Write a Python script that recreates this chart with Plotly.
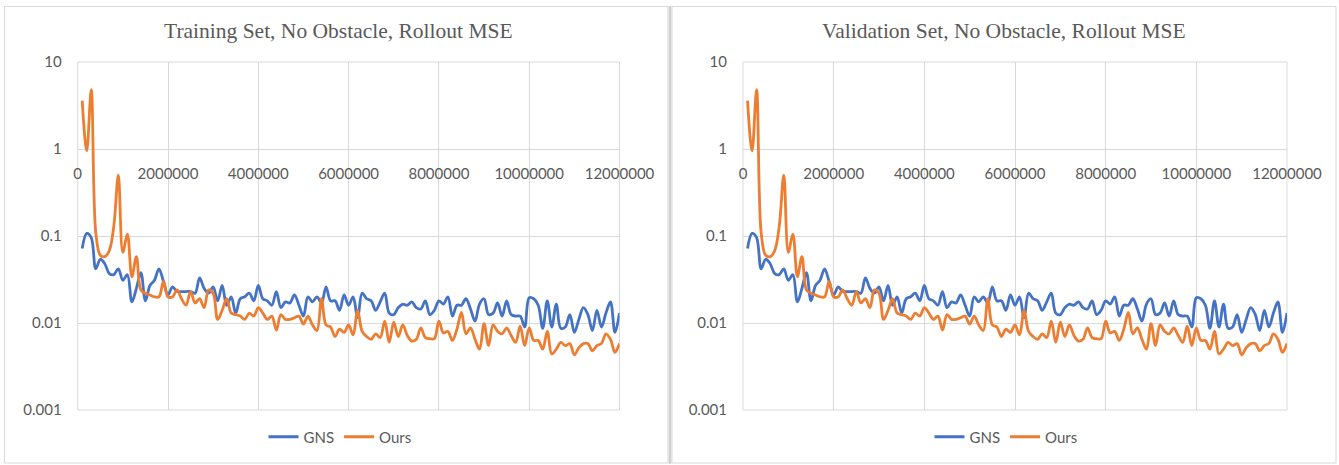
import plotly.graph_objects as go

# ---------------- data ----------------
steps = [i * 100000 for i in range(1, 121)]

gns_mse = [
    0.072, 0.107, 0.096, 0.042, 0.054, 0.048, 0.037, 0.036, 0.042, 0.031,
    0.036, 0.0175, 0.025, 0.038, 0.018, 0.027, 0.031, 0.042, 0.030, 0.021,
    0.026, 0.023, 0.023, 0.023, 0.023, 0.022, 0.033, 0.025, 0.022, 0.026,
    0.018, 0.027, 0.016, 0.020, 0.013, 0.019, 0.020, 0.022, 0.018, 0.027,
    0.019, 0.018, 0.016, 0.023, 0.015, 0.0175, 0.017, 0.021, 0.016, 0.012,
    0.020, 0.0175, 0.020, 0.017, 0.026, 0.018, 0.018, 0.014, 0.021, 0.016,
    0.020, 0.0115, 0.022, 0.019, 0.018, 0.014, 0.0175, 0.022, 0.013, 0.0125,
    0.015, 0.0165, 0.016, 0.0175, 0.015, 0.0145, 0.018, 0.0125, 0.014, 0.018,
    0.0165, 0.020, 0.012, 0.016, 0.016, 0.019, 0.0145, 0.0105, 0.0165, 0.019,
    0.0125, 0.013, 0.017, 0.012, 0.018, 0.0125, 0.012, 0.012, 0.009, 0.0195,
    0.019, 0.016, 0.0087, 0.018, 0.009, 0.0165, 0.0087, 0.009, 0.0125, 0.0078,
    0.011, 0.015, 0.0125, 0.0082, 0.014, 0.009, 0.013, 0.0175, 0.0078, 0.013,
]

ours_mse = [
    3.6, 0.95, 4.8, 0.11, 0.06, 0.058, 0.068, 0.13, 0.5, 0.065,
    0.105, 0.034, 0.058, 0.024, 0.022, 0.021, 0.020, 0.020, 0.030, 0.020,
    0.020, 0.024, 0.019, 0.016, 0.023, 0.017, 0.019, 0.015, 0.024, 0.022,
    0.011, 0.014, 0.019, 0.013, 0.0125, 0.012, 0.011, 0.013, 0.012, 0.015,
    0.013, 0.011, 0.012, 0.0083, 0.0125, 0.011, 0.011, 0.0115, 0.012, 0.0097,
    0.012, 0.0095, 0.0082, 0.019, 0.0095, 0.009, 0.007, 0.0085, 0.0078, 0.0095,
    0.0073, 0.014, 0.008, 0.007, 0.0065, 0.0075, 0.0068, 0.0105, 0.006, 0.0102,
    0.007, 0.0095, 0.0072, 0.0062, 0.0065, 0.0088, 0.0068, 0.0066, 0.0066, 0.0105,
    0.0077, 0.008, 0.0063, 0.0085, 0.0132, 0.0075, 0.0088, 0.0065, 0.005, 0.0098,
    0.0055, 0.0095, 0.008, 0.0075, 0.0088, 0.0072, 0.006, 0.0092, 0.0055, 0.0088,
    0.0063, 0.0063, 0.005, 0.008, 0.0044, 0.005, 0.006, 0.0055, 0.0058, 0.0043,
    0.0052, 0.0058, 0.0058, 0.0048, 0.0055, 0.0058, 0.0075, 0.0065, 0.0046, 0.0058,
]

titles = ["Training Set, No Obstacle, Rollout MSE", "Validation Set, No Obstacle, Rollout MSE"]
series_names = ["GNS", "Ours"]
x_ticks = [0, 2000000, 4000000, 6000000, 8000000, 10000000, 12000000]
y_ticks = [0.001, 0.01, 0.1, 1, 10]
y_tick_text = ["0.001", "0.01", "0.1", "1", "10"]

# ---------------- layout helpers ----------------
W, H = 1339, 465
T, B = 62, 55
PH = H - T - B


def px(x):
    return x / W


def py(y):
    return (H - B - y) / PH


BLUE = "#4472C4"
ORANGE = "#ED7D31"
GRID = "#D9D9D9"
TXT = "#595959"
SANS = "Lato, 'Liberation Sans', sans-serif"
SERIF = "'Liberation Serif', 'Times New Roman', serif"

fig = go.Figure()

domains = [(77.7, 619.5), (743.0, 1287.0)]
legends = ["legend", "legend2"]

for k in range(2):
    xa = "x" if k == 0 else "x2"
    ya = "y" if k == 0 else "y2"
    for name, vals, col in ((series_names[0], gns_mse, BLUE), (series_names[1], ours_mse, ORANGE)):
        fig.add_trace(go.Scatter(
            x=steps, y=vals, name=name, mode="lines",
            line=dict(color=col, width=2.8, shape="spline", smoothing=1.0),
            xaxis=xa, yaxis=ya, legend=legends[k],
        ))

axis_common_x = dict(
    range=[0, 12000000], tickvals=x_ticks, ticktext=[str(v) for v in x_ticks],
    showgrid=True, gridcolor=GRID, gridwidth=1, zeroline=False, showline=False,
    ticks="outside", ticklen=11, tickcolor="rgba(0,0,0,0)",
    tickfont=dict(family=SANS, size=15, color=TXT),
    anchor="free", position=0.75, automargin=False,
)
axis_common_y = dict(
    type="log", range=[-3, 1], tickvals=y_ticks, ticktext=y_tick_text,
    showgrid=True, gridcolor=GRID, gridwidth=1, zeroline=False, showline=False,
    ticks="outside", ticklen=12, tickcolor="rgba(0,0,0,0)",
    tickfont=dict(family=SANS, size=15, color=TXT), domain=[0, 1], automargin=False,
)

fig.update_layout(
    width=W, height=H,
    margin=dict(l=0, r=0, t=T, b=B, autoexpand=False),
    paper_bgcolor="white", plot_bgcolor="white",
    xaxis=dict(domain=[px(domains[0][0]), px(domains[0][1])], **axis_common_x),
    yaxis=dict(anchor="x", **axis_common_y),
    xaxis2=dict(domain=[px(domains[1][0]), px(domains[1][1])], **axis_common_x),
    yaxis2=dict(anchor="x2", **axis_common_y),
    legend=dict(orientation="h", x=px(340), xanchor="center", y=py(437), yanchor="middle",
                font=dict(family=SANS, size=15, color=TXT), bgcolor="rgba(0,0,0,0)",
                itemwidth=30),
    legend2=dict(orientation="h", x=px(1006), xanchor="center", y=py(437), yanchor="middle",
                 font=dict(family=SANS, size=15, color=TXT), bgcolor="rgba(0,0,0,0)",
                 itemwidth=30),
    showlegend=True,
)

# titles
fig.add_annotation(text=titles[0], x=px(338), y=py(31), xref="paper", yref="paper",
                   showarrow=False, font=dict(family=SERIF, size=21.5, color=TXT),
                   xanchor="center", yanchor="middle")
fig.add_annotation(text=titles[1], x=px(1004), y=py(31), xref="paper", yref="paper",
                   showarrow=False, font=dict(family=SERIF, size=21.5, color=TXT),
                   xanchor="center", yanchor="middle")

# plot-area edge lines (grid colour) so edge gridlines are always visible
for xd, yd in (("x domain", "y domain"), ("x2 domain", "y2 domain")):
    fig.add_shape(type="rect", xref=xd, yref=yd, x0=0, x1=1, y0=0, y1=1,
                  line=dict(color=GRID, width=1), layer="below")

# chart-area borders and separator
fig.add_shape(type="rect", xref="paper", yref="paper", x0=px(4.5), x1=px(668), y0=py(6.5), y1=py(463),
              line=dict(color=GRID, width=1), layer="below")
fig.add_shape(type="rect", xref="paper", yref="paper", x0=px(672), x1=px(1336), y0=py(6.5), y1=py(463),
              line=dict(color=GRID, width=1), layer="below")
fig.add_shape(type="line", xref="paper", yref="paper", x0=px(670), x1=px(670), y0=py(6), y1=py(464),
              line=dict(color="#CFCFCF", width=2.5))

fig.write_html("out.html", config={"displayModeBar": False},
               post_script="document.body.style.margin='0';document.body.style.overflow='hidden';")
